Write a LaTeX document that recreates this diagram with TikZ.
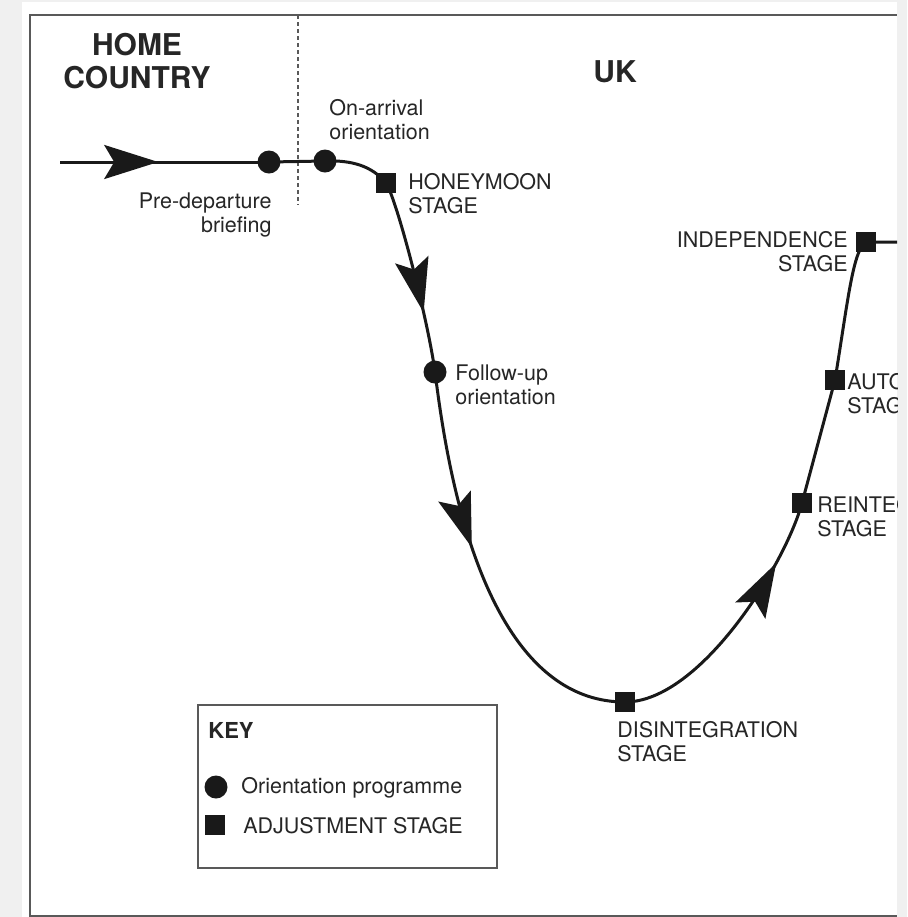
\documentclass[tikz,border=0pt]{standalone}
\usepackage{fontspec}
\setmainfont{TeX Gyre Heros}
\usetikzlibrary{arrows.meta,decorations.markings,positioning}

\tikzset{
  frame/.style={draw=black!65,line width=0.8pt},
  curve/.style={draw=black!90,line width=1.5pt},
  orient/.style={circle,fill=black!90,inner sep=0pt,minimum size=11.5pt},
  stage/.style={rectangle,fill=black!90,inner sep=0pt,minimum size=10pt},
  lbl/.style={font=\fontsize{10.75}{12}\selectfont,inner sep=0pt,align=left,text=black!85},
  title/.style={font=\fontsize{15}{16.5}\selectfont\bfseries,inner sep=0pt,align=center,text=black!85},
  midarrow/.style={postaction={decorate},decoration={markings,
      mark=at position #1 with {\arrow{Stealth[length=27pt,width=17pt,inset=5pt]}}}},
}

\begin{document}
\begin{tikzpicture}[x=0.5pt,y=-0.5pt]
\useasboundingbox (0,0) rectangle (907,917);
\fill[black!6] (0,0) rectangle (907,917);
\fill[white] (22,2) rectangle (897,917);

\begin{scope}
\clip (22,2) rectangle (897,917);

% outer frame and the border line
\draw[frame] (30,917) -- (30,15) -- (897,15);
\draw[frame] (30,916) -- (897,916);
\draw[frame,dash pattern=on 2pt off 1.5pt] (298,15) -- (298,205);

% titles
\node[title,anchor=base] (homelbl) at (137,88) {HOME\\COUNTRY};
\node[title,anchor=base] (uklbl) at (615,82) {UK};

% points on the curve
\coordinate (start) at (60,162);
\node[orient] (predep) at (269,162) {};
\node[orient] (arrival) at (325,161) {};
\node[stage] (honey) at (386,183) {};
\node[orient] (follow) at (435,372) {};
\node[stage] (disint) at (625,702) {};
\node[stage] (reint) at (802,503) {};
\node[stage] (auto) at (835,380) {};
\node[stage] (indep) at (866,242) {};
\coordinate (exit) at (905,242);

% the curve
\draw[curve,midarrow=0.47] (start) -- (predep.center);
\draw[curve] (predep.center) -- (arrival.center)
      .. controls (352,160) and (372,166) .. (honey.center);
\draw[curve,midarrow=0.69] (honey.center) .. controls (397,200) and (428,320) .. (follow.center);
\draw[curve,midarrow=0.435] (follow.center) .. controls (445,450) and (478,702) .. (disint.center);
\draw[curve,midarrow=0.765] (disint.center) .. controls (700,702) and (785,565) .. (reint.center);
\draw[curve] (reint.center) -- (auto.center)
      .. controls (848,300) and (853,250) .. (indep.center) -- (exit);

% labels
\node[lbl,anchor=base east,align=right] (deplbl) at (272,232) {Pre-departure\\briefing};
\node[lbl,anchor=base west] (arrlbl) at (329,139) {On-arrival\\orientation};
\node[lbl,anchor=base west] (honeylbl) at (408,213) {HONEYMOON\\STAGE};
\node[lbl,anchor=base west] (followlbl) at (455,404) {Follow-up\\orientation};
\node[lbl,anchor=base west] (disintlbl) at (617,761) {DISINTEGRATION\\STAGE};
\node[lbl,anchor=base west] (reintlbl) at (817,536) {REINTEGRATION\\STAGE};
\node[lbl,anchor=base west] (autolbl) at (847,413) {AUTONOMY\\STAGE};
\node[lbl,anchor=base east,align=right] (indeplbl) at (848,271) {INDEPENDENCE\\STAGE};

% key
\node[frame,fill=white,anchor=north west,minimum width=149.5pt,minimum height=81.5pt] (key) at (197,704) {};
\node[lbl,font=\fontsize{11}{12}\selectfont\bfseries,anchor=base west] (keylbl) at (208,738) {KEY};
\node[orient] (keycirc) at (216,787) {};
\node[lbl,anchor=base west] (keycirclbl) at (241,793) {Orientation programme};
\node[stage] (keysq) at (215,825) {};
\node[lbl,anchor=base west] (keysqlbl) at (243,833) {ADJUSTMENT STAGE};
\end{scope}
\end{tikzpicture}
\end{document}
